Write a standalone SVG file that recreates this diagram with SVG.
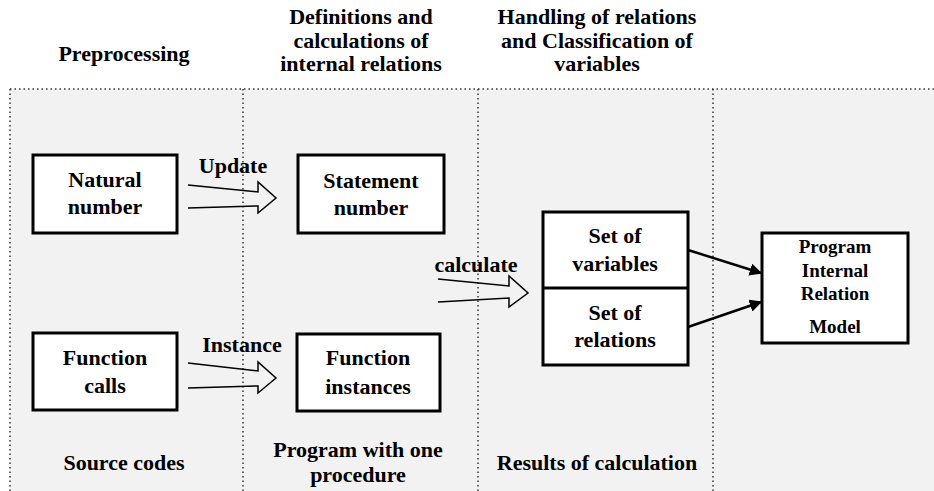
<svg xmlns="http://www.w3.org/2000/svg" width="934" height="491" viewBox="0 0 934 491">
<style>
text{font-family:'Liberation Serif','Times New Roman',serif;font-weight:700;fill:#000;text-anchor:middle}
.t{font-size:22px}
.s{font-size:19px}
.box{fill:#fff;stroke:#000;stroke-width:3}
.dot{stroke:#333;stroke-width:1.5;stroke-dasharray:1.5 3;fill:none}
.hollow{fill:none;stroke:#000;stroke-width:1.5;stroke-linejoin:miter}
.conn{stroke:#000;stroke-width:2.5;fill:none}
</style>
<defs>
<marker id="ah" viewBox="0 0 10 10" refX="9" refY="5" markerWidth="5" markerHeight="5" orient="auto" markerUnits="strokeWidth">
<path d="M0,0 L10,5 L0,10 z" fill="#000"/>
</marker>
</defs>
<rect x="0" y="0" width="934" height="491" fill="#fff"/>
<g id="background">
<rect x="10" y="89" width="924" height="402" fill="#f2f2f2"/>
<line class="dot" x1="10" y1="89" x2="934" y2="89"/>
<line class="dot" x1="10" y1="89" x2="10" y2="491"/>
<line class="dot" x1="243" y1="89" x2="243" y2="491"/>
<line class="dot" x1="478" y1="89" x2="478" y2="491"/>
<line class="dot" x1="713" y1="89" x2="713" y2="491"/>
</g>
<g id="headings">
<text class="t" x="124" y="61">Preprocessing</text>
<text class="t" x="361" y="24">Definitions and</text>
<text class="t" x="361" y="48">calculations of</text>
<text class="t" x="361" y="71">internal relations</text>
<text class="t" x="597" y="24">Handling of relations</text>
<text class="t" x="597" y="48">and Classification of</text>
<text class="t" x="597" y="71">variables</text>
</g>
<g id="footers">
<text class="t" x="124" y="470">Source codes</text>
<text class="t" x="358" y="457">Program with one</text>
<text class="t" x="358" y="482">procedure</text>
<text class="t" x="597" y="470">Results of calculation</text>
</g>
<g id="natural-number">
<rect class="box" x="33" y="155" width="144" height="78"/>
<text class="t" x="105" y="187">Natural</text>
<text class="t" x="105" y="214">number</text>
</g>
<g id="statement-number">
<rect class="box" x="298" y="155" width="146" height="78"/>
<text class="t" x="371" y="188">Statement</text>
<text class="t" x="371" y="215">number</text>
</g>
<g id="function-calls">
<rect class="box" x="33" y="333" width="144" height="77"/>
<text class="t" x="105" y="365">Function</text>
<text class="t" x="105" y="393">calls</text>
</g>
<g id="function-instances">
<rect class="box" x="297" y="334" width="143" height="77"/>
<text class="t" x="368" y="365">Function</text>
<text class="t" x="368" y="394">instances</text>
</g>
<g id="set-box">
<rect class="box" x="543" y="212" width="145" height="153"/>
<line x1="543" y1="288" x2="688" y2="288" stroke="#000" stroke-width="3"/>
<g id="set-of-variables">
<text class="t" x="615" y="243">Set of</text>
<text class="t" x="615" y="271">variables</text>
</g>
<g id="set-of-relations">
<text class="t" x="615" y="320">Set of</text>
<text class="t" x="615" y="347">relations</text>
</g>
</g>
<g id="program-internal-relation-model">
<rect class="box" x="762" y="233" width="146" height="110"/>
<text class="s" x="835" y="253">Program</text>
<text class="s" x="835" y="277">Internal</text>
<text class="s" x="835" y="300">Relation</text>
<text class="s" x="835" y="333">Model</text>
</g>
<g id="connectors">
<path class="hollow" d="M188,185 L258,192 L258,182 L276,198 L258,213 L258,206 L188,208"/>
<text class="t" x="233" y="173">Update</text>
<path class="hollow" d="M188,363 L258,371 L258,362 L276,378 L258,393 L258,386 L188,388"/>
<text class="t" x="242" y="352">Instance</text>
<path class="hollow" d="M438,279 L509,286 L509,276 L528,293 L509,307 L509,298 L438,302"/>
<text class="t" x="476" y="272">calculate</text>
<line class="conn" x1="688" y1="250" x2="761" y2="273" marker-end="url(#ah)"/>
<line class="conn" x1="688" y1="327" x2="761" y2="302" marker-end="url(#ah)"/>
</g>
</svg>
